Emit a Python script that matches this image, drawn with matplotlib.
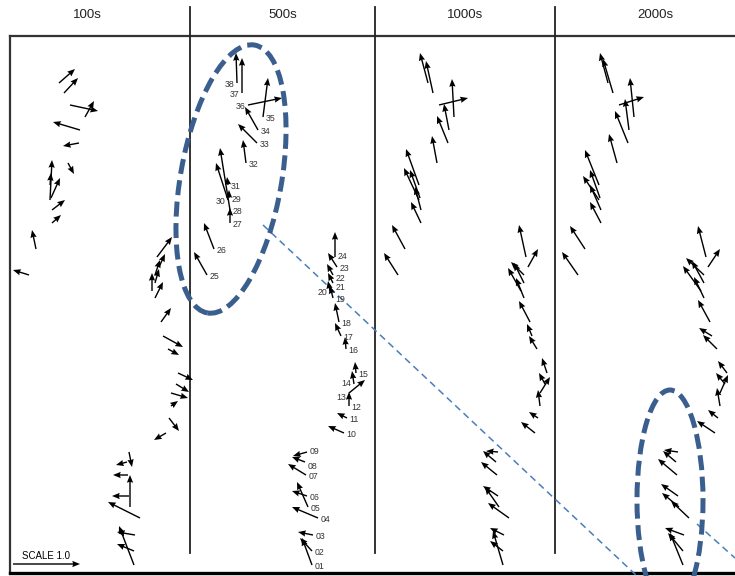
import matplotlib
matplotlib.use('Agg')
import matplotlib.pyplot as plt
from matplotlib.patches import Ellipse

plt.rcParams['font.family'] = ['Liberation Sans', 'DejaVu Sans']

# station codes and positions (same network in every panel)
stations = ['%02d' % i for i in range(1, 39)]
east = [122, 122, 123, 128, 118, 117, 116, 115, 117, 154, 157, 159, 159, 164, 166, 156, 151, 149, 143,
        140, 143, 143, 147, 145, 17, 24, 40, 40, 39, 38, 38, 56, 67, 68, 73, 58, 52, 47]
north = [11, 25, 41, 58, 69, 80, 101, 114, 124, 143, 158, 170, 183, 192, 203, 227, 240, 254, 278,
         285, 293, 301, 309, 319, 301, 327, 353, 366, 378, 376, 391, 413, 433, 446, 459, 471, 483, 493]

periods = ['100s', '500s', '1000s', '2000s']

# vector components per period (east, north)
u100 = [-15, -17, -18, -32, 0, -17, -15, -11, 3, -12, 10, 7, 17, 13, 15, 11, 20, 10, 8,
        0, 4, 5, 6, 15, -16, -4, 9, 13, 9, 2, 1, 6, -16, -27, 9, 28, 14, 16]
v100 = [39, 7, 3, 16, 32, 0, 0, -3, -15, -7, -13, 5, -5, -8, -7, -6, -11, 14, 16,
        18, 14, 15, 13, 20, 5, 19, 8, 10, 20, 40, 12, -11, -3, 8, 16, -6, 15, 14]
u500 = [-10, -12, -15, -26, -11, -15, -18, -13, -14, -16, -10, 0, 16, -2, -1, -1, -6, -4, -3,
        -2, -5, -6, -9, 0, -13, -10, 0, -10, 0, -12, -1, -3, -19, -13, 5, 34, 0, -1]
v500 = [27, 13, 3, 11, 25, 5, 11, 5, -4, 7, 5, 14, 13, 13, 11, 12, 13, 19, 12,
        10, 10, 11, 14, 25, 23, 26, 15, 62, 8, 37, 8, 23, 19, 23, 39, 7, 35, 30]
u1000 = [-10, -13, -14, -21, -14, -15, -16, -13, -12, -14, -9, -2, 10, -6, -5, -8, -5, -11, -8,
         -13, -10, -13, 10, -7, -14, -13, -10, -6, -10, -15, -13, -5, -11, -5, -2, 29, -7, -8]
v1000 = [34, 10, 7, 15, 20, 10, 13, 11, 1, 11, 6, 16, 16, 11, 15, 13, 12, 21, 20,
         23, 20, 13, 18, 32, 22, 24, 21, 23, 28, 32, 36, 27, 27, 26, 38, 7, 32, 30]
u2000 = [-13, -15, -19, -18, -17, -17, -19, -13, -14, -18, -10, -3, 8, -9, -9, -14, -13, -12, -10,
         -18, -12, -18, 12, -8, -16, -15, -11, -11, -10, -16, -14, -8, -13, -4, -4, 25, -10, -8]
v2000 = [32, 18, 7, 17, 14, 12, 16, 11, 2, 12, 8, 18, 18, 11, 12, 14, 8, 22, 21,
         25, 22, 17, 18, 31, 23, 23, 21, 25, 28, 24, 35, 29, 32, 31, 39, 8, 34, 30]

vectors = [(u100, v100), (u500, v500), (u1000, v1000), (u2000, v2000)]

W, H = 735, 576
fig = plt.figure(figsize=(W / 100, H / 100), dpi=100)

# background layer in pixel units (y up)
bg = fig.add_axes([0, 0, 1, 1])
bg.set_xlim(0, W)
bg.set_ylim(0, H)
bg.axis('off')

frame_col = '#333333'
bg.plot([10, W], [H - 36, H - 36], color=frame_col, lw=1.6)
bg.plot([10, 10], [H - 36, H - 573], color=frame_col, lw=1.6)
bg.plot([10, W], [H - 573, H - 573], color='black', lw=2.4)
for xd in [190, 375, 555]:
    bg.plot([xd, xd], [H - 7, H - 553], color='#222222', lw=1.3)

for name, xc in zip(periods, [87, 283, 465, 655]):
    bg.text(xc, H - 15, name, ha='center', va='center', fontsize=9.5, color='#222222')

# label placement tweaks (points)
left_side = ['13', '14', '20', '30', '36', '37', '38']
nudge = {'24': 1.5, '21': -2.5, '22': -1.5, '09': 1, '08': -2, '14': 1, '13': -2}

# panels
origins = [12, 190, 381, 561]
for i, (u, v) in enumerate(vectors):
    ax = fig.add_axes([origins[i] / W, 0, 180 / W, 1])
    ax.set_xlim(0, 180)
    ax.set_ylim(0, H)
    ax.axis('off')
    ax.patch.set_alpha(0)
    q = ax.quiver(east, north, u, v, angles='xy', scale_units='xy', scale=1,
                  units='dots', width=1.4, headwidth=4.5, headlength=5.5,
                  headaxislength=5, color='black', zorder=3)
    q.set_clip_on(False)
    if i == 0:
        ax.quiverkey(q, 46.5 / W, 12 / H, 67, 'SCALE 1.0', labelpos='N',
                     coordinates='figure', labelsep=0.03,
                     fontproperties={'size': 7})
    if i == 1:
        for s, x, y in zip(stations, east, north):
            dy = -1 + nudge.get(s, 0)
            if s in left_side:
                ax.annotate(s, (x, y), xytext=(-2, dy), textcoords='offset points',
                            ha='right', va='center', fontsize=6.3, color='#333333')
            else:
                ax.annotate(s, (x, y), xytext=(2, dy), textcoords='offset points',
                            ha='left', va='center', fontsize=6.3, color='#333333')

# highlight ellipses and connector
hl = '#3a5f8f'
bg.add_patch(Ellipse((231, H - 179), 101, 272, angle=-10, fill=False, ec=hl, lw=3.6,
                     ls=(0, (3, 1.3)), zorder=5))
bg.add_patch(Ellipse((670, H - 500), 66, 220, angle=0, fill=False, ec=hl, lw=3.6,
                     ls=(0, (3, 1.3)), zorder=5))
bg.plot([263, 637], [H - 225, H - 576], color='#4a7ebb', lw=1.1, ls=(0, (4.5, 3)), zorder=4)
bg.plot([697, 735], [H - 524, H - 558], color='#4a7ebb', lw=1.1, ls=(0, (4.5, 3)), zorder=4)

fig.savefig('out.png', dpi=100)
